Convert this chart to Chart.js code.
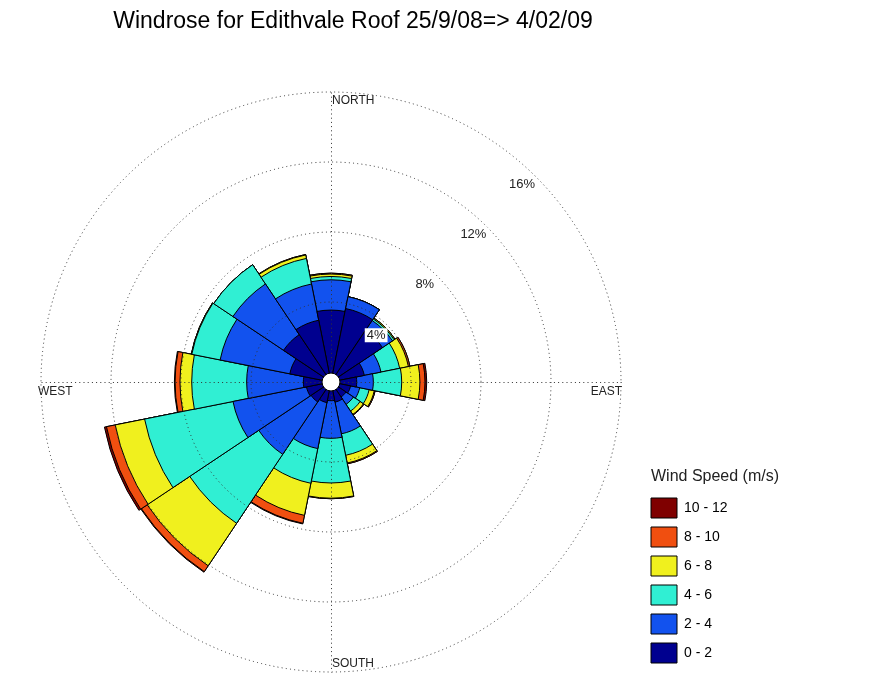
<!DOCTYPE html>
<html>
<head>
<meta charset="utf-8">
<title>Windrose for Edithvale Roof</title>
<script src="https://cdn.jsdelivr.net/npm/chart.js@4.4.1/dist/chart.umd.min.js"></script>
<style>
  html, body { margin: 0; padding: 0; background: #fff; }
  canvas { display: block; }
</style>
</head>
<body>
<canvas id="rose" width="891" height="683"></canvas>
<script>
// Compass sectors, clockwise from north (22.5 degrees each)
const directions = ['N', 'NNE', 'NE', 'ENE', 'E', 'ESE', 'SE', 'SSE',
                    'S', 'SSW', 'SW', 'WSW', 'W', 'WNW', 'NW', 'NNW'];

// Wind speed classes (m/s)
const speedBins = ['0 - 2', '2 - 4', '4 - 6', '6 - 8', '8 - 10', '10 - 12'];

// Frequency of occurrence (% of time) per sector for each speed class
const freq0to2   = [3.54, 3.71, 2.97, 1.37, 0.90, 0.57, 0.46, 0.60, 0.50, 0.63, 0.80, 0.86, 1.01, 1.83, 2.69, 3.03];
const freq2to4   = [1.73, 0.69, 0.69, 0.97, 0.95, 0.53, 0.51, 1.85, 2.15, 2.68, 3.60, 4.28, 3.24, 4.06, 3.48, 2.11];
const freq4to6   = [0.19, 0.00, 0.11, 1.09, 1.62, 0.55, 0.46, 1.25, 2.55, 2.02, 4.74, 5.15, 3.14, 1.65, 1.32, 1.49];
const freq6to8   = [0.14, 0.00, 0.06, 0.51, 1.04, 0.30, 0.23, 0.45, 0.87, 1.87, 2.92, 1.71, 0.67, 0.03, 0.00, 0.20];
const freq8to10  = [0.05, 0.00, 0.00, 0.09, 0.29, 0.05, 0.04, 0.05, 0.03, 0.46, 0.40, 0.51, 0.28, 0.00, 0.00, 0.03];
const freq10to12 = [0.00, 0.00, 0.00, 0.00, 0.10, 0.00, 0.00, 0.00, 0.00, 0.04, 0.04, 0.12, 0.04, 0.00, 0.00, 0.00];

// Percentage rings
const ringValues = [4, 8, 12, 16];

const chartTitle = 'Windrose for Edithvale Roof 25/9/08=> 4/02/09';
const legendHeading = 'Wind Speed (m/s)';

const speedSeries = [freq0to2, freq2to4, freq4to6, freq6to8, freq8to10, freq10to12];
const speedColors = ['#00008f', '#1252ee', '#30efd3', '#f0f01e', '#f04f10', '#7f0000'];

// Each speed class is drawn as a wedge reaching its cumulative total;
// slower classes sit on top of faster ones so the wedges read as stacked bands.
const cumulative = speedSeries.map((_, k) =>
  directions.map((_, i) => speedSeries.slice(0, k + 1).reduce((sum, s) => sum + s[i], 0))
);

const FONT = "'Liberation Sans', Arial, sans-serif";
Chart.defaults.font.family = FONT;

const TITLE_CENTER_X = 353;
const TITLE_MIDDLE_Y = 22;
const DOTS = [1, 3.2];
const toRad = d => d * Math.PI / 180;

// Cardinal cross, calm hub, ring labels, compass names and headings
const roseDecor = {
  id: 'roseDecor',
  afterDatasetsDraw(chart) {
    const s = chart.scales.r;
    const ctx = chart.ctx;
    const xc = s.xCenter + 0.5, yc = s.yCenter + 0.5;
    const R = s.getDistanceFromCenterForValue(s.max);
    ctx.save();
    ctx.strokeStyle = '#333';
    ctx.lineWidth = 1;
    ctx.setLineDash(DOTS);
    ctx.beginPath();
    ctx.moveTo(xc, yc - R); ctx.lineTo(xc, yc + R);
    ctx.moveTo(xc - R, yc); ctx.lineTo(xc + R, yc);
    ctx.stroke();
    ctx.setLineDash([]);
    const hub = s.getDistanceFromCenterForValue(0) - 1;
    ctx.beginPath();
    ctx.arc(s.xCenter, s.yCenter, hub, 0, Math.PI * 2);
    ctx.fillStyle = '#fff';
    ctx.fill();
    ctx.strokeStyle = '#000';
    ctx.stroke();
    ctx.restore();
  },
  afterDraw(chart) {
    const s = chart.scales.r;
    const ctx = chart.ctx;
    const xc = s.xCenter, yc = s.yCenter;
    const R = s.getDistanceFromCenterForValue(s.max);
    ctx.save();

    // chart heading
    ctx.font = '23px ' + FONT;
    ctx.fillStyle = '#000';
    ctx.textAlign = 'center';
    ctx.textBaseline = 'middle';
    ctx.fillText(chartTitle, TITLE_CENTER_X, TITLE_MIDDLE_Y);

    // ring percentages along the 44 degree bearing
    ctx.font = '13px ' + FONT;
    ringValues.forEach(v => {
      const d = s.getDistanceFromCenterForValue(v) - 15;
      const x = xc + d * Math.sin(toRad(44));
      const y = yc - d * Math.cos(toRad(44));
      const label = v + '%';
      const w = ctx.measureText(label).width;
      ctx.fillStyle = '#fff';
      ctx.fillRect(x - w / 2 - 2, y - 7, w + 4, 14);
      ctx.fillStyle = '#222';
      ctx.fillText(label, x, y);
    });

    // compass names
    ctx.font = '12px ' + FONT;
    ctx.fillStyle = '#222';
    ctx.textBaseline = 'alphabetic';
    ctx.textAlign = 'left';
    ctx.fillText('NORTH', xc + 1, yc - R + 12);
    ctx.fillText('SOUTH', xc + 1, yc + R - 5);
    ctx.fillText('WEST', xc - R - 3, yc + 13);
    ctx.textAlign = 'right';
    ctx.fillText('EAST', xc + R + 1, yc + 13);

    // heading above the speed key, aligned with its first swatch
    const first = chart.legend && chart.legend.legendHitBoxes[0];
    if (first) {
      ctx.font = '16px ' + FONT;
      ctx.textAlign = 'left';
      ctx.textBaseline = 'middle';
      ctx.fillText(legendHeading, first.left, first.top - 21);
    }
    ctx.restore();
  }
};

new Chart(document.getElementById('rose'), {
  type: 'polarArea',
  data: {
    labels: directions,
    datasets: speedBins.map((bin, k) => ({
      label: bin,
      data: cumulative[k],
      backgroundColor: speedColors[k],
      borderColor: '#000',
      borderWidth: 1,
      hoverOffset: 0
    }))
  },
  options: {
    responsive: false,
    animation: false,
    events: [],
    layout: { padding: { left: 20, right: 157, top: 92, bottom: 11 } },
    scales: {
      r: {
        min: -0.57,
        max: 16,
        beginAtZero: false,
        startAngle: -11.25,
        afterBuildTicks: scale => {
          scale.ticks = [0].concat(ringValues).map(v => ({ value: v }));
        },
        ticks: { display: false },
        grid: {
          circular: true,
          z: 1,
          color: '#333',
          lineWidth: c => (c.tick && ringValues.includes(c.tick.value)) ? 1 : 0
        },
        border: { dash: DOTS },
        angleLines: { display: false },
        pointLabels: { display: false }
      }
    },
    plugins: {
      title: { display: false },
      legend: {
        position: 'right',
        align: 'end',
        maxWidth: 92,
        reverse: true,
        labels: {
          boxWidth: 26,
          boxHeight: 20,
          padding: 9,
          color: '#222',
          font: { size: 14, family: FONT },
          generateLabels: chart => chart.data.datasets.map((ds, i) => ({
            text: ds.label,
            fillStyle: ds.backgroundColor,
            strokeStyle: '#000',
            lineWidth: 1,
            hidden: false,
            datasetIndex: i
          }))
        }
      },
      tooltip: { enabled: false }
    }
  },
  plugins: [roseDecor]
});
</script>
</body>
</html>
